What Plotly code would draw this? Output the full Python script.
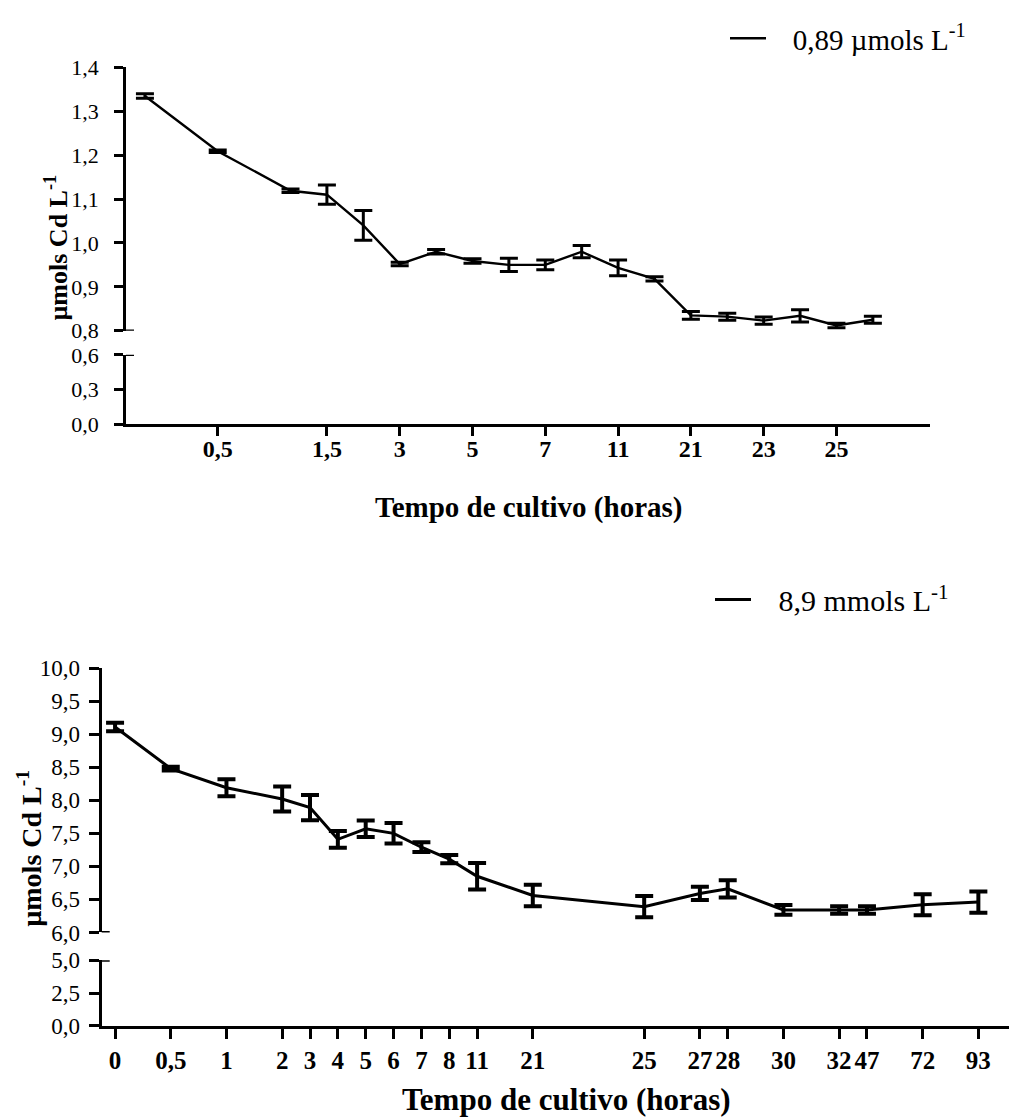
import plotly.graph_objects as go

# ---------------------------------------------------------------------------
# Data: residual Cd in the medium over cultivation time (mean +/- error)
# x values are the sampling-order slots on the (non-linear) time axis
# ---------------------------------------------------------------------------

# 0,89 µmol/L treatment
top_order = [0, 2, 4, 5, 6, 7, 8, 9, 10, 11, 12, 13, 14, 15, 16, 17, 18, 19, 20]
top_mean = [1.335, 1.209, 1.119, 1.110, 1.040, 0.952, 0.980, 0.959, 0.950, 0.950,
            0.980, 0.943, 0.918, 0.835, 0.832, 0.823, 0.834, 0.812, 0.825]
top_err = [0.005, 0.003, 0.004, 0.022, 0.034, 0.004, 0.005, 0.005, 0.015, 0.011,
           0.014, 0.018, 0.005, 0.009, 0.008, 0.008, 0.014, 0.005, 0.008]
top_tick_order = [2, 5, 7, 9, 11, 13, 15, 17, 19]
top_tick_text = ["0,5", "1,5", "3", "5", "7", "11", "21", "23", "25"]

# 8,9 mmol/L treatment
bottom_order = [0, 2, 4, 6, 7, 8, 9, 10, 11, 12, 13, 15, 19, 21, 22, 24, 26, 27, 29, 31]
bottom_hours = ["0", "0,5", "1", "2", "3", "4", "5", "6", "7", "8", "11", "21",
                "25", "27", "28", "30", "32", "47", "72", "93"]
bottom_mean = [9.11, 8.48, 8.19, 8.02, 7.89, 7.41, 7.57, 7.50, 7.29, 7.11,
               6.85, 6.56, 6.39, 6.59, 6.66, 6.34, 6.34, 6.34, 6.42, 6.46]
bottom_err = [0.066, 0.03, 0.13, 0.19, 0.19, 0.127, 0.124, 0.155, 0.074, 0.062,
              0.20, 0.163, 0.16, 0.10, 0.13, 0.074, 0.056, 0.056, 0.16, 0.16]

GAP = "\u00a0\u00a0\u00a0"  # breathing room between legend line and label
top_name = GAP + "0,89 µmols L<sup>-1</sup>"
bottom_name = GAP + "8,9 mmols L<sup>-1</sup>"
y_title = "<b>µmols Cd L<sup>-1</sup></b>"
x_title = "<b>Tempo de cultivo (horas)</b>"

# ---------------------------------------------------------------------------
W, H = 1009, 1118
SERIF = "Liberation Serif"


def fx(px):
    return px / W


def fy(py):
    return 1 - py / H


fig = go.Figure()

fig.add_trace(go.Scatter(
    x=top_order, y=top_mean, mode="lines", name=top_name, showlegend=True,
    line=dict(color="black", width=2.4),
    error_y=dict(type="data", array=top_err, color="black", thickness=3, width=9),
    xaxis="x", yaxis="y2", legend="legend",
))
fig.add_trace(go.Scatter(
    x=bottom_order, y=bottom_mean, mode="lines", name=bottom_name, showlegend=True,
    line=dict(color="black", width=3),
    error_y=dict(type="data", array=bottom_err, color="black", thickness=4, width=9),
    xaxis="x3", yaxis="y4", legend="legend2",
))

common = dict(showgrid=False, zeroline=False, showline=True, linecolor="black",
              ticks="outside", tickcolor="black")

top_ax = dict(common, linewidth=2.5, tickwidth=2.5, ticklen=9)
bot_ax = dict(common, linewidth=3, tickwidth=3, ticklen=10)

ytick_top = dict(family=SERIF, size=22, color="black")
ytick_bot = dict(family=SERIF, size=23, color="black")
xtick_top = dict(family=SERIF, size=24, color="black", weight="bold")
xtick_bot = dict(family=SERIF, size=25, color="black", weight="bold")

legend_style = dict(xanchor="left", yanchor="middle", bgcolor="rgba(0,0,0,0)",
                    borderwidth=0, itemwidth=36, visible=True)

fig.update_layout(
    width=W, height=H, autosize=False,
    margin=dict(l=0, r=0, t=0, b=0),
    paper_bgcolor="white", plot_bgcolor="white",
    separators=",.",
    showlegend=True,
    font=dict(family=SERIF, color="black"),
    # top panel (broken y axis)
    xaxis=dict(top_ax, domain=[fx(126), fx(930)], anchor="y", range=[-0.52, 21.57],
               tickmode="array", tickvals=top_tick_order, ticktext=top_tick_text,
               tickfont=xtick_top, ticklabelstandoff=-8),
    yaxis=dict(top_ax, domain=[fy(421.7), fy(350.7)], anchor="x", range=[0, 0.6],
               tick0=0, dtick=0.3, tickformat=".1f", tickfont=ytick_top,
               ticklabelstandoff=11),
    yaxis2=dict(top_ax, domain=[fy(326), fy(56.7)], anchor="x", range=[0.8, 1.4],
                tick0=0.8, dtick=0.1, tickformat=".1f", tickfont=ytick_top,
                ticklabelstandoff=11),
    # bottom panel (broken y axis)
    xaxis3=dict(bot_ax, domain=[fx(101.7), fx(1009)], anchor="y3", range=[-0.48, 32.1],
                tickmode="array", tickvals=bottom_order, ticktext=bottom_hours,
                tickfont=xtick_bot),
    yaxis3=dict(bot_ax, domain=[fy(1037), fy(970)], anchor="x3", range=[0, 5],
                tick0=0, dtick=2.5, tickformat=".1f", tickfont=ytick_bot,
                ticklabelstandoff=4),
    yaxis4=dict(bot_ax, domain=[fy(941.5), fy(671.2)], anchor="x3", range=[6, 10],
                tick0=6, dtick=0.5, tickformat=".1f", tickfont=ytick_bot,
                ticklabelstandoff=4),
    legend=dict(legend_style, x=fx(725), y=fy(27),
                font=dict(family=SERIF, size=29, color="black")),
    legend2=dict(legend_style, x=fx(710), y=fy(601),
                 font=dict(family=SERIF, size=30, color="black")),
)

# axis titles
annotations = [
    dict(text=y_title, x=fx(57), y=fy(241), textangle=-90,
         font=dict(family=SERIF, size=26, color="black")),
    dict(text=y_title, x=fx(30), y=fy(856), textangle=-90,
         font=dict(family=SERIF, size=28, color="black")),
    dict(text=x_title, x=fx(528), y=fy(507),
         font=dict(family=SERIF, size=29, color="black")),
    dict(text=x_title, x=fx(566), y=fy(1112),
         font=dict(family=SERIF, size=31, color="black")),
]
for a in annotations:
    a.update(xref="paper", yref="paper", showarrow=False,
             xanchor="center", yanchor="middle")
fig.update_layout(annotations=annotations)

# break marks: the end ticks of each axis segment cross the axis line
breaks = [
    ("y2", 0.8, 126, 2.5), ("y", 0.6, 126, 2.5),
    ("y4", 6.0, 101.7, 3), ("y3", 5.0, 101.7, 3),
]
for yref, yv, xpx, lw in breaks:
    fig.add_shape(type="line", xref="paper", yref=yref,
                  x0=fx(xpx), x1=fx(xpx + 8), y0=yv, y1=yv,
                  line=dict(color="black", width=lw))

fig.write_html("out.html")
